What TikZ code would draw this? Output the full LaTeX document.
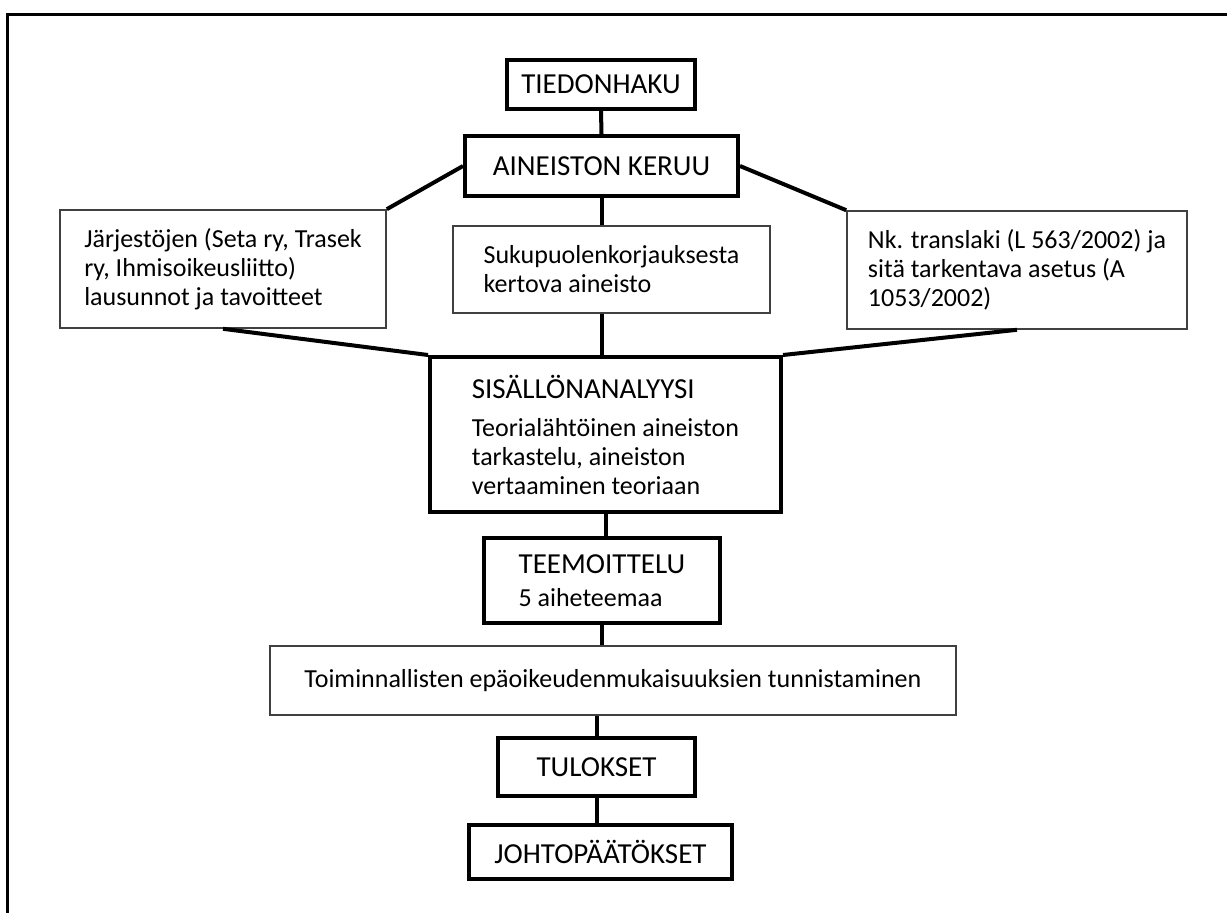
\documentclass[tikz,border=0pt]{standalone}
\usepackage{fontspec}
\setmainfont{Carlito}
\usepackage{tikz}
\usetikzlibrary{positioning}
\tikzset{
  stagebox/.style={rectangle,draw,line width=4pt,align=left,inner sep=0pt},
  sourcebox/.style={rectangle,draw=black!75,line width=1.6pt,align=left,inner sep=0pt},
  link/.style={line width=4pt},
  frame/.style={line width=3pt},
  headfont/.style={font=\fontsize{29}{34}\selectfont}
}

\begin{document}
\begin{tikzpicture}[x=1pt,y=-1pt,
  every node/.style={font=\fontsize{26}{29}\selectfont}]
\useasboundingbox (0,0) rectangle (1227,913);

% Page frame, cut at the right and bottom
\draw[frame] (7,913) -- (7,14) -- (1227,14);

% Main stages
\node[stagebox,headfont,minimum width=188pt,minimum height=49pt] (tied) at (601,84.5) {TIEDONHAKU};
\node[stagebox,headfont,minimum width=273pt,minimum height=60pt] (keruu) at (601.5,166) {AINEISTON KERUU};

% Material sources
\node[sourcebox,minimum width=326pt,minimum height=118pt] (jarj) at (223,269)
  {J\"arjest\"ojen (Seta ry, Trasek\\ry, Ihmisoikeusliitto)\\lausunnot ja tavoitteet};
\node[sourcebox,minimum width=317pt,minimum height=87pt] (korj) at (611.5,269.5)
  {Sukupuolenkorjauksesta\\kertova aineisto};
\node[sourcebox,minimum width=340pt,minimum height=118pt] (laki) at (1017,270)
  {Nk. translaki (L 563/2002) ja\\sit\"a tarkentava asetus (A\\1053/2002)};

% Analysis and results
\node[stagebox,minimum width=351pt,minimum height=155pt] (sis) at (605.5,434.5)
  {{\fontsize{29}{34}\selectfont SIS\"ALL\"ONANALYYSI}\\[9pt]Teorial\"aht\"oinen aineiston\\tarkastelu, aineiston\\vertaaminen teoriaan};
\node[stagebox,minimum width=236pt,minimum height=85pt] (teem) at (602,580.5)
  {{\fontsize{29}{34}\selectfont TEEMOITTELU}\\[4pt]5 aiheteemaa};
\node[sourcebox,minimum width=686pt,minimum height=69pt] (toim) at (613,680.5)
  {Toiminnallisten ep\"aoikeudenmukaisuuksien tunnistaminen};
\node[stagebox,headfont,minimum width=197pt,minimum height=58pt] (tulos) at (596.5,767) {TULOKSET};
\node[stagebox,headfont,minimum width=263pt,minimum height=54pt] (johto) at (600.5,852) {JOHTOP\"A\"AT\"OKSET};

% Vertical chain
\draw[link] (tied.south) -- (keruu.north);
\draw[link] (keruu.south) -- (keruu.south |- korj.north);
\draw[link] (keruu.south |- korj.south) -- (keruu.south |- sis.north);
\draw[link] (sis.south) -- (sis.south |- teem.north);
\draw[link] (teem.south) -- (teem.south |- toim.north);
\draw[link] (tulos.north |- toim.south) -- (tulos.north);
\draw[link] (tulos.south) -- (tulos.south |- johto.north);

% Side branches
\draw[link] (keruu.west) -- (jarj.north east);
\draw[link] (keruu.east) -- (laki.north west);
\draw[link] (jarj.south) -- (sis.north west);
\draw[link] (laki.south) -- (sis.north east);

\end{tikzpicture}
\end{document}
